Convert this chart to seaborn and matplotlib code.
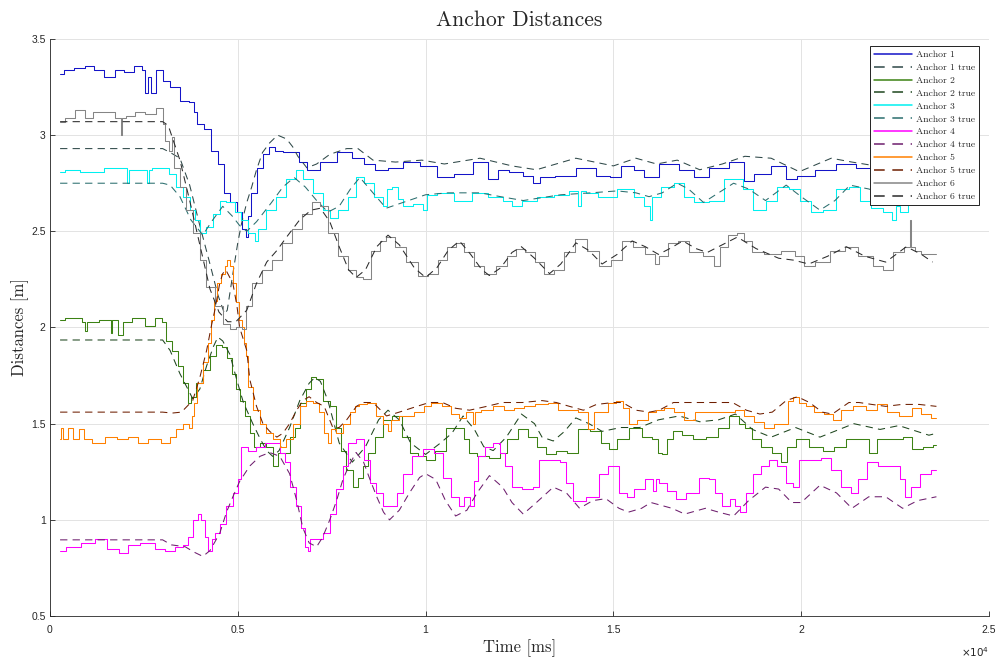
import matplotlib
matplotlib.use("Agg")
import matplotlib.pyplot as plt
import seaborn as sns
import pandas as pd

# ---------------- data (time in ms, distance in m) ----------------
ANCHOR1 = [(270, 3.32), (500, 3.34), (800, 3.35), (1060, 3.36), (1300, 3.34), (1600, 3.30), (1860, 3.34),
           (2100, 3.33), (2400, 3.36), (2500, 3.34), (2550, 3.22), (2650, 3.30), (2750, 3.22), (2900, 3.34),
           (3100, 3.28), (3300, 3.25), (3600, 3.18), (3800, 3.17), (3850, 3.12), (4000, 3.06), (4200, 3.03),
           (4400, 2.92), (4550, 2.85), (4700, 2.70), (4900, 2.65), (5050, 2.60), (5200, 2.51), (5250, 2.47),
           (5300, 2.58), (5400, 2.70), (5600, 2.83), (5750, 2.90), (5900, 2.94), (6100, 2.92), (6300, 2.91),
           (6550, 2.91), (6700, 2.86), (7000, 2.82), (7400, 2.86), (7900, 2.91), (8200, 2.88), (8500, 2.85),
           (8800, 2.82), (9200, 2.83), (9600, 2.86), (10100, 2.84), (10500, 2.78), (11000, 2.80),
           (11500, 2.86), (11800, 2.77), (12050, 2.82), (12400, 2.81), (12800, 2.79), (12900, 2.75),
           (13200, 2.78), (13700, 2.79), (14300, 2.83), (14800, 2.79), (15000, 2.78), (15400, 2.84),
           (15700, 2.82), (15950, 2.78), (16500, 2.85), (17000, 2.82), (17300, 2.78), (17800, 2.83),
           (18350, 2.86), (18600, 2.76), (18900, 2.80), (19500, 2.84), (19700, 2.77), (20100, 2.79),
           (20650, 2.82), (21200, 2.85), (21700, 2.83), (22300, 2.82), (23000, 2.84), (23600, 2.83)]
ANCHOR1_TRUE = [(270, 2.93), (3000, 2.93), (3200, 2.91), (3460, 2.88), (3720, 2.74), (3990, 2.53), (4260, 2.33),
                (4470, 2.17), (4650, 2.07), (4720, 2.09), (4870, 2.28), (5000, 2.44), (5100, 2.54), (5240, 2.65),
                (5370, 2.73), (5500, 2.82), (5660, 2.91), (5850, 2.96), (6060, 3.00), (6300, 2.98), (6460, 2.94),
                (6600, 2.89), (6840, 2.83), (7100, 2.85), (7450, 2.90), (7900, 2.93), (8200, 2.93), (8600, 2.87),
                (9200, 2.86), (9900, 2.87), (10500, 2.85), (11450, 2.88), (12300, 2.84), (12950, 2.82),
                (14000, 2.88), (15000, 2.84), (15600, 2.88), (16150, 2.85), (16700, 2.87), (17300, 2.82),
                (17900, 2.85), (18500, 2.89), (19200, 2.88), (19950, 2.81), (20800, 2.88), (21350, 2.86),
                (22300, 2.83), (23000, 2.85), (23600, 2.86)]
ANCHOR2 = [(270, 2.04), (530, 2.05), (800, 2.05), (900, 2.03), (980, 1.98), (1000, 2.03), (1600, 2.04),
           (1640, 1.97), (1680, 2.04), (1930, 1.96), (1970, 2.03), (2400, 2.05), (2660, 2.01), (2930, 2.05),
           (3060, 2.03), (3140, 1.93), (3370, 1.88), (3460, 1.80), (3640, 1.71), (3720, 1.61), (3800, 1.64),
           (3990, 1.71), (4170, 1.78), (4330, 1.85), (4520, 1.91), (4650, 1.90), (4790, 1.84), (4920, 1.76),
           (5000, 1.68), (5130, 1.62), (5270, 1.54), (5370, 1.45), (5500, 1.38), (5670, 1.40), (5850, 1.38),
           (6040, 1.28), (6120, 1.35), (6300, 1.35), (6460, 1.43), (6570, 1.48), (6730, 1.61), (6900, 1.68),
           (7000, 1.74), (7180, 1.73), (7370, 1.62), (7530, 1.59), (7700, 1.48), (7780, 1.36), (7980, 1.26),
           (8160, 1.17), (8240, 1.22), (8430, 1.28), (8520, 1.35), (8780, 1.43), (8960, 1.52), (9230, 1.54),
           (9500, 1.43), (9660, 1.35), (9920, 1.33), (10100, 1.31), (10400, 1.36), (10700, 1.48),
           (10960, 1.48), (11070, 1.42), (11250, 1.35), (11500, 1.33), (11900, 1.32), (12050, 1.35),
           (12300, 1.42), (12600, 1.47), (12850, 1.43), (13100, 1.38), (13300, 1.34), (13650, 1.36),
           (13900, 1.35), (14200, 1.47), (14550, 1.46), (14800, 1.40), (14970, 1.37), (15230, 1.42),
           (15600, 1.48), (15900, 1.43), (16150, 1.42), (16200, 1.35), (16400, 1.34), (16450, 1.42),
           (16700, 1.46), (16960, 1.44), (17300, 1.42), (17650, 1.43), (17900, 1.48), (18250, 1.54),
           (18420, 1.50), (18600, 1.48), (18800, 1.42), (19050, 1.38), (19400, 1.35), (19550, 1.30),
           (19700, 1.38), (20000, 1.42), (20400, 1.38), (20750, 1.36), (21010, 1.38), (21350, 1.42),
           (21700, 1.42), (21900, 1.35), (22150, 1.42), (22600, 1.42), (22800, 1.43), (23100, 1.37),
           (23400, 1.38), (23600, 1.39)]
ANCHOR2_TRUE = [(270, 1.935), (3000, 1.935), (3200, 1.88), (3460, 1.76), (3670, 1.68), (3800, 1.63),
                (3990, 1.68), (4170, 1.80), (4350, 1.90), (4470, 1.95), (4600, 1.93), (4790, 1.86),
                (4970, 1.73), (5150, 1.61), (5400, 1.50), (5600, 1.42), (5770, 1.36), (5930, 1.33),
                (6100, 1.36), (6380, 1.48), (6650, 1.62), (6900, 1.71), (7050, 1.74), (7200, 1.72),
                (7400, 1.62), (7700, 1.40), (8050, 1.30), (8400, 1.38), (8750, 1.52), (9000, 1.57),
                (9300, 1.52), (9600, 1.40), (10000, 1.34), (10400, 1.40), (10700, 1.45), (11000, 1.54),
                (11300, 1.47), (11550, 1.38), (11800, 1.36), (12150, 1.43), (12550, 1.55), (12900, 1.50),
                (13100, 1.43), (13400, 1.41), (13700, 1.46), (14000, 1.53), (14350, 1.50), (14700, 1.46),
                (15200, 1.48), (15700, 1.48), (16200, 1.52), (16750, 1.54), (17300, 1.51), (17800, 1.52),
                (18250, 1.55), (18700, 1.47), (19200, 1.43), (19850, 1.48), (20500, 1.43), (21400, 1.50),
                (22100, 1.47), (22600, 1.49), (23400, 1.44), (23600, 1.45)]
ANCHOR3 = [(270, 2.81), (530, 2.82), (1060, 2.81), (1800, 2.83), (2040, 2.83), (2070, 2.75), (2120, 2.82),
           (2560, 2.82), (2600, 2.75), (2660, 2.82), (2800, 2.83), (3100, 2.83), (3250, 2.80), (3460, 2.73),
           (3640, 2.68), (3800, 2.61), (3900, 2.56), (4070, 2.49), (4260, 2.52), (4430, 2.59), (4600, 2.66),
           (4790, 2.65), (5050, 2.60), (5130, 2.56), (5400, 2.49), (5500, 2.45), (5560, 2.51), (5930, 2.61),
           (6120, 2.68), (6460, 2.77), (6650, 2.82), (6840, 2.77), (7180, 2.70), (7370, 2.61), (7530, 2.57),
           (7800, 2.61), (8060, 2.68), (8240, 2.78), (8500, 2.75), (8780, 2.68), (8960, 2.63), (9000, 2.72),
           (9230, 2.73), (9300, 2.67), (9500, 2.63), (9840, 2.64), (10000, 2.61), (10100, 2.69),
           (10500, 2.70), (11000, 2.66), (11450, 2.70), (11900, 2.68), (12200, 2.66), (12400, 2.63),
           (12750, 2.66), (13200, 2.68), (13650, 2.69), (14000, 2.71), (14100, 2.63), (14150, 2.71),
           (14400, 2.70), (14800, 2.68), (15400, 2.72), (15700, 2.68), (15950, 2.63), (16000, 2.56),
           (16050, 2.68), (16500, 2.73), (16750, 2.75), (17000, 2.68), (17300, 2.65), (17800, 2.66),
           (18100, 2.77), (18350, 2.77), (18550, 2.72), (18900, 2.61), (19200, 2.66), (19500, 2.73),
           (19850, 2.72), (20100, 2.66), (20400, 2.60), (20750, 2.61), (21100, 2.72), (21450, 2.73),
           (21700, 2.66), (22000, 2.62), (22350, 2.60), (22500, 2.56), (22550, 2.63), (22700, 2.60),
           (23000, 2.66), (23600, 2.68)]
ANCHOR3_TRUE = [(270, 2.75), (3000, 2.75), (3200, 2.74), (3460, 2.68), (3750, 2.56), (4070, 2.48), (4300, 2.55),
                (4600, 2.63), (4850, 2.58), (5050, 2.53), (5240, 2.50), (5500, 2.55), (5900, 2.65), (6200, 2.73),
                (6500, 2.78), (6800, 2.73), (7100, 2.66), (7400, 2.60), (7700, 2.63), (8000, 2.72), (8250, 2.78),
                (8600, 2.70), (8950, 2.62), (9400, 2.65), (10000, 2.69), (10600, 2.70), (11450, 2.70),
                (12000, 2.68), (12600, 2.66), (13600, 2.69), (14400, 2.70), (15100, 2.71), (15600, 2.70),
                (15950, 2.68), (16300, 2.70), (16700, 2.75), (17000, 2.72), (17400, 2.65), (17800, 2.70),
                (18200, 2.75), (18600, 2.72), (19050, 2.66), (19600, 2.74), (20000, 2.68), (20500, 2.61),
                (20900, 2.66), (21300, 2.74), (21800, 2.72), (22400, 2.68), (23000, 2.68), (23600, 2.72)]
ANCHOR4 = [(270, 0.84), (600, 0.86), (1060, 0.88), (1330, 0.90), (1700, 0.85), (2000, 0.83), (2150, 0.87),
           (2660, 0.88), (2930, 0.85), (3200, 0.84), (3460, 0.86), (3640, 0.87), (3720, 0.91), (3900, 1.00),
           (3990, 1.03), (4070, 1.00), (4170, 0.91), (4260, 0.84), (4350, 0.90), (4430, 0.93), (4600, 0.98),
           (4790, 1.07), (4960, 1.14), (5050, 1.21), (5130, 1.38), (5400, 1.36), (5590, 1.38), (5850, 1.40),
           (6040, 1.40), (6200, 1.35), (6300, 1.30), (6460, 1.17), (6650, 1.07), (6730, 0.96), (6840, 0.86),
           (6900, 0.84), (6950, 0.90), (7180, 0.90), (7370, 0.93), (7530, 1.03), (7700, 1.16), (7880, 1.28),
           (7980, 1.40), (8300, 1.42), (8430, 1.31), (8600, 1.19), (8780, 1.14), (8960, 1.07), (9150, 1.07),
           (9310, 1.14), (9500, 1.24), (9760, 1.33), (10100, 1.37), (10370, 1.35), (10560, 1.22),
           (10800, 1.12), (10960, 1.07), (11100, 1.12), (11250, 1.07), (11350, 1.20), (11450, 1.33),
           (11700, 1.38), (11900, 1.40), (12050, 1.35), (12200, 1.28), (12400, 1.17), (12750, 1.16),
           (12950, 1.17), (13100, 1.31), (13500, 1.31), (13650, 1.30), (13830, 1.19), (14000, 1.10),
           (14550, 1.12), (14700, 1.24), (15000, 1.28), (15300, 1.14), (15400, 1.12), (15700, 1.16),
           (16000, 1.21), (16100, 1.15), (16150, 1.21), (16300, 1.19), (16560, 1.15), (16750, 1.11),
           (17100, 1.14), (17450, 1.22), (17630, 1.21), (17800, 1.14), (18000, 1.07), (18200, 1.11),
           (18270, 1.07), (18450, 1.04), (18620, 1.14), (18800, 1.24), (19050, 1.28), (19220, 1.31),
           (19500, 1.28), (19700, 1.19), (19880, 1.17), (20000, 1.31), (20400, 1.31), (20650, 1.32),
           (20930, 1.26), (21200, 1.17), (21450, 1.14), (21600, 1.21), (21900, 1.30), (22170, 1.28),
           (22540, 1.28), (22700, 1.21), (22850, 1.12), (23000, 1.17), (23300, 1.24), (23600, 1.26)]
ANCHOR4_TRUE = [(270, 0.896), (3000, 0.896), (3230, 0.87), (3600, 0.86), (3860, 0.83), (4070, 0.81),
                (4260, 0.84), (4520, 0.93), (4700, 1.04), (4870, 1.12), (5050, 1.20), (5320, 1.28),
                (5590, 1.33), (5850, 1.35), (6120, 1.33), (6380, 1.24), (6570, 1.10), (6730, 0.96),
                (6900, 0.88), (7100, 0.86), (7260, 0.91), (7450, 1.00), (7630, 1.10), (7800, 1.21),
                (7980, 1.29), (8150, 1.35), (8350, 1.30), (8500, 1.22), (8700, 1.12), (8880, 1.04),
                (9040, 1.00), (9300, 1.05), (9570, 1.14), (9840, 1.22), (10000, 1.24), (10270, 1.21),
                (10530, 1.10), (10800, 1.02), (11100, 1.05), (11370, 1.14), (11700, 1.23), (12050, 1.17),
                (12300, 1.09), (12600, 1.03), (12950, 1.09), (13400, 1.17), (13750, 1.14), (14100, 1.06),
                (14450, 1.10), (14800, 1.11), (15150, 1.06), (15400, 1.04), (15750, 1.06), (16000, 1.09),
                (16560, 1.06), (16900, 1.03), (17450, 1.06), (17800, 1.04), (18200, 1.02), (18600, 1.10),
                (19050, 1.17), (19400, 1.16), (19750, 1.09), (20000, 1.09), (20500, 1.18), (20940, 1.14),
                (21350, 1.06), (21800, 1.12), (22250, 1.12), (22700, 1.06), (23100, 1.10), (23600, 1.12)]
ANCHOR5 = [(270, 1.42), (330, 1.48), (370, 1.42), (600, 1.48), (650, 1.42), (880, 1.47), (920, 1.42),
           (1330, 1.40), (1600, 1.43), (1950, 1.42), (2200, 1.43), (2470, 1.40), (2750, 1.42), (3140, 1.40),
           (3270, 1.43), (3460, 1.47), (3640, 1.50), (3770, 1.48), (3800, 1.54), (3850, 1.61), (3990, 1.71),
           (4170, 1.82), (4260, 1.92), (4310, 2.04), (4400, 2.14), (4500, 2.23), (4600, 2.28), (4700, 2.32),
           (4730, 2.35), (4850, 2.32), (4920, 2.23), (5000, 2.13), (5050, 2.04), (5150, 2.00), (5200, 1.92),
           (5240, 1.85), (5320, 1.69), (5500, 1.57), (5670, 1.50), (5850, 1.45), (6040, 1.42), (6200, 1.38),
           (6380, 1.42), (6570, 1.50), (6730, 1.59), (6900, 1.62), (7100, 1.61), (7200, 1.56), (7370, 1.45),
           (7450, 1.40), (7530, 1.47), (7700, 1.45), (7900, 1.50), (8060, 1.56), (8160, 1.59), (8300, 1.60),
           (8560, 1.61), (8780, 1.54), (8960, 1.50), (9040, 1.46), (9100, 1.52), (9500, 1.54), (9900, 1.56),
           (10000, 1.59), (10300, 1.61), (10550, 1.59), (10800, 1.55), (10960, 1.53), (11200, 1.56),
           (11300, 1.50), (11350, 1.56), (11600, 1.57), (11970, 1.59), (12200, 1.57), (12500, 1.58),
           (12750, 1.59), (13100, 1.60), (13400, 1.61), (13650, 1.57), (13900, 1.57), (14200, 1.56),
           (14450, 1.47), (14500, 1.56), (14700, 1.56), (15000, 1.61), (15150, 1.62), (15350, 1.58),
           (15500, 1.50), (15770, 1.52), (16050, 1.56), (16200, 1.57), (16500, 1.58), (16750, 1.56),
           (17000, 1.52), (17370, 1.56), (17740, 1.56), (18100, 1.56), (18350, 1.57), (18620, 1.54),
           (18880, 1.51), (19150, 1.48), (19420, 1.50), (19600, 1.50), (19700, 1.62), (19870, 1.64),
           (20030, 1.61), (20200, 1.59), (20480, 1.56), (20750, 1.55), (20930, 1.52), (21200, 1.57),
           (21540, 1.59), (21900, 1.57), (22150, 1.60), (22420, 1.56), (22800, 1.54), (23100, 1.58),
           (23290, 1.55), (23600, 1.53)]
ANCHOR5_TRUE = [(270, 1.56), (3000, 1.56), (3250, 1.555), (3500, 1.56), (3800, 1.62), (3990, 1.74),
                (4170, 1.88), (4310, 2.02), (4390, 2.09), (4520, 2.23), (4600, 2.28), (4680, 2.30),
                (4870, 2.23), (4980, 2.11), (5050, 2.00), (5240, 1.88), (5320, 1.73), (5500, 1.59),
                (5670, 1.50), (5850, 1.46), (6040, 1.43), (6200, 1.45), (6380, 1.50), (6570, 1.57),
                (6730, 1.62), (6900, 1.64), (7100, 1.61), (7300, 1.59), (7530, 1.48), (7700, 1.48),
                (7900, 1.52), (8160, 1.59), (8330, 1.61), (8600, 1.61), (8960, 1.54), (9300, 1.56),
                (9770, 1.59), (10100, 1.61), (10450, 1.61), (10800, 1.58), (11170, 1.57), (11630, 1.59),
                (12050, 1.61), (12580, 1.61), (13100, 1.62), (13480, 1.61), (13830, 1.59), (14200, 1.57),
                (14550, 1.60), (15000, 1.61), (15240, 1.61), (15600, 1.57), (15960, 1.56), (16220, 1.57),
                (16600, 1.61), (17000, 1.61), (17640, 1.61), (18170, 1.61), (18540, 1.57), (18900, 1.55),
                (19230, 1.56), (19600, 1.62), (19900, 1.64), (20220, 1.61), (20560, 1.56), (20830, 1.55),
                (21270, 1.61), (21540, 1.61), (21880, 1.60), (22250, 1.59), (22680, 1.60), (23140, 1.60),
                (23600, 1.59)]
ANCHOR6 = [(270, 3.07), (530, 3.09), (800, 3.13), (1060, 3.09), (1250, 3.12), (1600, 3.12), (1880, 3.09),
           (1900, 3.00), (1920, 3.09), (2130, 3.10), (2400, 3.12), (2660, 3.11), (2970, 3.14), (3050, 3.06),
           (3100, 2.97), (3230, 2.92), (3260, 2.99), (3370, 2.83), (3550, 2.73), (3720, 2.61), (3900, 2.49),
           (4070, 2.35), (4260, 2.21), (4520, 2.11), (4700, 2.02), (4870, 1.99), (5050, 2.00), (5200, 1.99),
           (5250, 2.11), (5500, 2.23), (5770, 2.30), (6040, 2.35), (6300, 2.44), (6570, 2.51), (6840, 2.59),
           (7100, 2.65), (7260, 2.63), (7530, 2.49), (7800, 2.37), (8060, 2.30), (8240, 2.26), (8420, 2.25),
           (8700, 2.40), (8860, 2.45), (9040, 2.47), (9310, 2.42), (9660, 2.34), (9920, 2.27), (10200, 2.28),
           (10450, 2.35), (10700, 2.42), (10900, 2.44), (11170, 2.39), (11400, 2.32), (11700, 2.28),
           (12030, 2.32), (12300, 2.37), (12500, 2.41), (12800, 2.39), (13030, 2.34), (13300, 2.28),
           (13560, 2.30), (13830, 2.39), (14150, 2.46), (14430, 2.40), (14800, 2.32), (15060, 2.35),
           (15400, 2.45), (15640, 2.42), (16050, 2.38), (16150, 2.33), (16300, 2.37), (16600, 2.44),
           (16850, 2.45), (17200, 2.39), (17550, 2.37), (17810, 2.32), (17880, 2.42), (18200, 2.48),
           (18380, 2.49), (18560, 2.45), (18800, 2.39), (19230, 2.38), (19700, 2.40), (19950, 2.37),
           (20200, 2.32), (20550, 2.34), (21000, 2.40), (21350, 2.42), (21700, 2.37), (22100, 2.32),
           (22280, 2.30), (22600, 2.39), (22880, 2.42), (22900, 2.56), (22950, 2.42), (23100, 2.40),
           (23300, 2.38), (23600, 2.38)]
ANCHOR6_TRUE = [(270, 3.07), (3000, 3.07), (3150, 3.05), (3460, 2.87), (3720, 2.66), (3990, 2.43), (4260, 2.20),
                (4500, 2.08), (4730, 2.03), (4950, 2.03), (5240, 2.09), (5500, 2.23), (5770, 2.34), (6040, 2.40),
                (6300, 2.47), (6650, 2.56), (6950, 2.61), (7200, 2.62), (7450, 2.55), (7700, 2.42), (7950, 2.30),
                (8150, 2.26), (8400, 2.30), (8700, 2.42), (9000, 2.48), (9300, 2.43), (9700, 2.31), (10000, 2.26),
                (10300, 2.31), (10600, 2.40), (10900, 2.45), (11200, 2.38), (11500, 2.30), (11700, 2.27),
                (12000, 2.31), (12300, 2.39), (12550, 2.42), (12900, 2.36), (13300, 2.28), (13600, 2.33),
                (14000, 2.44), (14350, 2.40), (14700, 2.33), (15100, 2.38), (15500, 2.45), (15850, 2.42),
                (16200, 2.38), (16500, 2.41), (16850, 2.45), (17200, 2.41), (17500, 2.39), (17900, 2.43),
                (18300, 2.47), (18800, 2.41), (19400, 2.36), (19800, 2.35), (20200, 2.33), (20700, 2.37),
                (21200, 2.42), (21700, 2.37), (22250, 2.34), (22800, 2.42), (23200, 2.38), (23500, 2.34)]

SERIES_NAMES = ["Anchor 1", "Anchor 1 true", "Anchor 2", "Anchor 2 true", "Anchor 3", "Anchor 3 true",
                "Anchor 4", "Anchor 4 true", "Anchor 5", "Anchor 5 true", "Anchor 6", "Anchor 6 true"]
SERIES_DATA = [ANCHOR1, ANCHOR1_TRUE, ANCHOR2, ANCHOR2_TRUE, ANCHOR3, ANCHOR3_TRUE,
               ANCHOR4, ANCHOR4_TRUE, ANCHOR5, ANCHOR5_TRUE, ANCHOR6, ANCHOR6_TRUE]
SERIES_COLORS = ["#1414c8", "#2e4848", "#3c8214", "#1e461e", "#00f0f0", "#2a6e6e",
                 "#ff00ff", "#6e1e6e", "#ff8000", "#6e1e00", "#858585", "#2a2a2a"]

X_TICKS = [0, 5000, 10000, 15000, 20000, 25000]
X_TICK_LABELS = ["0", "0.5", "1", "1.5", "2", "2.5"]
Y_TICKS = [0.5, 1, 1.5, 2, 2.5, 3, 3.5]
Y_TICK_LABELS = ["0.5", "1", "1.5", "2", "2.5", "3", "3.5"]

# ---------------- style ----------------
sns.set_style("ticks")
plt.rcParams["font.family"] = ["cmr10", "DejaVu Serif"]
plt.rcParams["axes.unicode_minus"] = False

fig = plt.figure(figsize=(9.99, 6.58), dpi=100)
ax = fig.add_axes([0.05, 0.0638, 0.94, 0.877])

for name, pts, color in zip(SERIES_NAMES, SERIES_DATA, SERIES_COLORS):
    df = pd.DataFrame(pts, columns=["t", "d"])
    kws = dict(linewidth=0.75)
    if name.endswith("true"):
        kws["linestyle"] = (0, (7, 5))
    else:
        kws["drawstyle"] = "steps-mid"
    sns.lineplot(data=df, x="t", y="d", ax=ax, color=color, estimator=None,
                 sort=False, label=name, **kws)

ax.set_xlim(0, 25000)
ax.set_ylim(0.5, 3.5)
ax.set_xticks(X_TICKS)
ax.set_xticklabels(X_TICK_LABELS)
ax.set_yticks(Y_TICKS)
ax.set_yticklabels(Y_TICK_LABELS)
ax.tick_params(direction="in", length=3.5, width=0.6, labelsize=7.5, colors="#262626",
               labelfontfamily="Liberation Sans")
ax.tick_params(axis="x", pad=6.5)
ax.tick_params(axis="y", pad=3)
ax.grid(True, color="#e3e3e3", linewidth=0.7)
ax.set_axisbelow(True)
for s in ["top", "right"]:
    ax.spines[s].set_visible(False)
for s in ["left", "bottom"]:
    ax.spines[s].set_color("#262626")
    ax.spines[s].set_linewidth(0.6)

ax.set_title("Anchor Distances", fontsize=15.5, pad=9)
ax.set_xlabel("Time [ms]", fontsize=12, labelpad=3)
ax.set_ylabel("Distances [m]", fontsize=12, labelpad=2)
ax.text(1.0, -0.05, r"$\times10^{4}$", transform=ax.transAxes, ha="right", va="top",
        fontsize=7.5, color="#262626", family="DejaVu Sans")

leg = ax.legend(loc="upper right", bbox_to_anchor=(0.989, 0.987), borderaxespad=0,
                fontsize=7, labelspacing=0.42, handlelength=3.9, handletextpad=0.4,
                borderpad=0.4, fancybox=False, frameon=True, edgecolor="#222222", framealpha=1)
leg.get_frame().set_linewidth(0.7)
for h, c in zip(leg.get_lines(), SERIES_COLORS):
    h.set_color(c)
    h.set_linewidth(1.1)
    h.set_drawstyle("default")

fig.savefig("out.png", dpi=100)
